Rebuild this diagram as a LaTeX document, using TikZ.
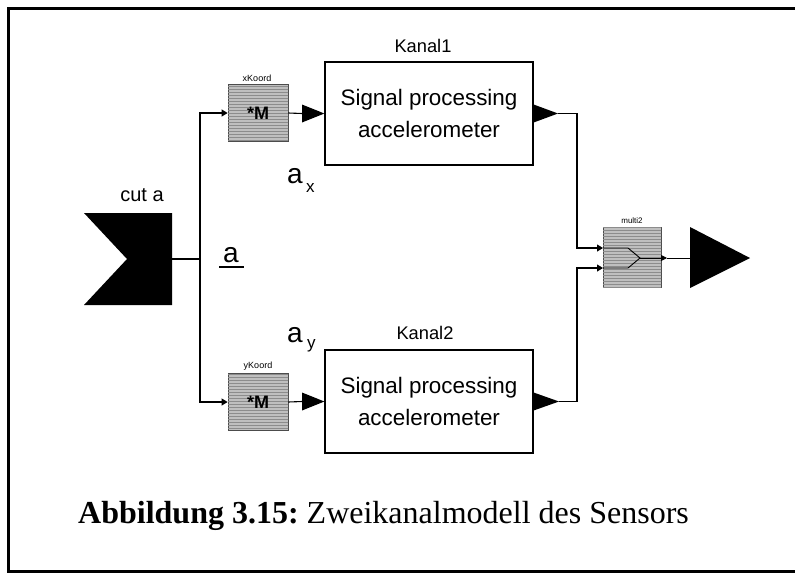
\documentclass[tikz,border=0pt]{standalone}
\usepackage{fontspec}
\setmainfont{Liberation Sans}
\newfontfamily\capfont{Liberation Serif}
\usetikzlibrary{arrows.meta,patterns,calc}
\begin{document}
\begin{tikzpicture}[x=1pt,y=-1pt,
  wire/.style={line width=1.1pt},
  tipwire/.style={line width=1.1pt,-{Triangle[length=6pt,width=7pt]}},
  kanal/.style={draw,line width=1.3pt,minimum width=208pt,minimum height=103pt,inner sep=0,
    align=center,font=\fontsize{22.4}{32}\selectfont},
  gblock/.style={draw=black!70,line width=0.8pt,fill=black!25,
    postaction={pattern=horizontal lines,pattern color=black!45},
    minimum width=60pt,minimum height=57pt,inner sep=0},
  lbl/.style={inner sep=0,anchor=base},
  frameline/.style={line width=3pt,line cap=rect}
]
\useasboundingbox (0,0) rectangle (795,576);
% frame
\draw[frameline] (795,8) -- (8,8) -- (8,571) -- (795,571);

% source chevron
\fill (84,213) -- (172,213) -- (172,305) -- (84,305) -- (127,259) -- cycle;
\coordinate (cutout) at (172,259);
\coordinate (jn) at (200,259);
\node[lbl] (cutlbl) at (142,201) {\fontsize{20}{22}\selectfont cut a};

% underlined a
\node[lbl,anchor=base west] (alabel) at (223,262) {\fontsize{28}{30}\selectfont a};
\draw[line width=1.8pt] (219,267) -- (244,267);

% gain blocks
\node[gblock] (xk) at (258,113) {\fontsize{18}{20}\selectfont\textbf{*M}};
\node[gblock] (yk) at (258,402) {\fontsize{18}{20}\selectfont\textbf{*M}};
\node[lbl] (xklbl) at (257,81) {\fontsize{9}{10}\selectfont xKoord};
\node[lbl] (yklbl) at (258,368) {\fontsize{9}{10}\selectfont yKoord};

% channels
\node[kanal] (k1) at (429,113.5) {Signal processing\\accelerometer};
\node[kanal] (k2) at (429,401.5) {Signal processing\\accelerometer};
\node[lbl] (k1lbl) at (423,52) {\fontsize{18.3}{20}\selectfont Kanal1};
\node[lbl] (k2lbl) at (425,339) {\fontsize{18.3}{20}\selectfont Kanal2};

% a_x, a_y
\node[lbl,anchor=base west] (ax) at (287,183) {\fontsize{28}{30}\selectfont a};
\node[lbl,anchor=base west] (axs) at (306,192) {\fontsize{17}{18}\selectfont x};
\node[lbl,anchor=base west] (ay) at (287,342) {\fontsize{28}{30}\selectfont a};
\node[lbl,anchor=base west] (ays) at (307,348) {\fontsize{17}{18}\selectfont y};

% input ports of channels
\coordinate (k1in) at (302,113.5);
\coordinate (k2in) at (302,401.5);
\fill ($(k1in)+(0,-9)$) -- (k1.west) -- ($(k1in)+(0,9)$) -- cycle;
\fill ($(k2in)+(0,-9)$) -- (k2.west) -- ($(k2in)+(0,9)$) -- cycle;
% output ports of channels
\coordinate (k1out) at (558,113.5);
\coordinate (k2out) at (559,401.5);
\fill ($(k1.east)+(0,-9)$) -- (k1out) -- ($(k1.east)+(0,9)$) -- cycle;
\fill ($(k2.east)+(0,-9)$) -- (k2out) -- ($(k2.east)+(0,9)$) -- cycle;

% mux
\node[gblock,minimum width=58pt,minimum height=60pt] (mux) at (632,257) {};
\node[lbl] (muxlbl) at (632,223) {\fontsize{8}{9}\selectfont multi2};
\coordinate (m1) at (603,248);
\coordinate (m2) at (603,268);
\coordinate (mj) at (640,258);
\coordinate (mo) at (667,258);
\draw[line width=0.9pt] (m1) -- (628,248) -- (mj) -- (628,268) -- (m2);
\draw[line width=0.9pt,-{Triangle[length=6pt,width=6pt]}] (mj) -- (mo);

% output triangle
\coordinate (outin) at (690,258);
\fill (690,227) -- (750,258) -- (690,288) -- cycle;

% wires
\draw[wire] (cutout) -- (jn);
\draw[tipwire] (jn) |- (xk.west);
\draw[tipwire] (jn) |- (yk.west);
\draw[wire] (xk.east) -- (k1in);
\draw[wire] (yk.east) -- (k2in);
\draw[tipwire] (k1out) -- (577,113.5) |- (m1);
\draw[tipwire] (k2out) -- (577,401.5) |- (m2);
\draw[line width=0.9pt] (mo) -- (outin);

% caption
\node[lbl,anchor=base west] (cap) at (78,523)
  {\capfont\fontsize{32}{35}\selectfont\textbf{Abbildung 3.15:}\fontdimen2\font=8pt\ Zweikanalmodell des Sensors};
\end{tikzpicture}
\end{document}
